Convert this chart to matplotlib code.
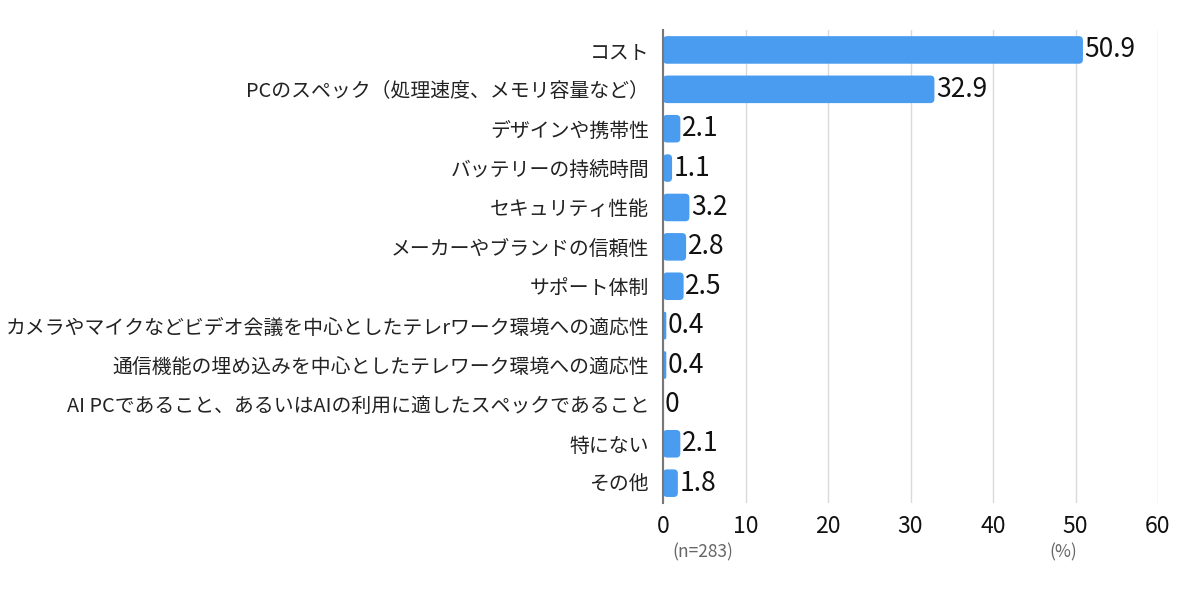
import matplotlib
matplotlib.use("Agg")
import matplotlib.pyplot as plt
from matplotlib.patches import FancyBboxPatch

plt.rcParams['font.family'] = ['Noto Sans CJK JP', 'DejaVu Sans']

# data (top to bottom)
categories = [
    "コスト",
    "PCのスペック（処理速度、メモリ容量など）",
    "デザインや携帯性",
    "バッテリーの持続時間",
    "セキュリティ性能",
    "メーカーやブランドの信頼性",
    "サポート体制",
    "カメラやマイクなどビデオ会議を中心としたテレrワーク環境への適応性",
    "通信機能の埋め込みを中心としたテレワーク環境への適応性",
    "AI PCであること、あるいはAIの利用に適したスペックであること",
    "特にない",
    "その他",
]
values = [50.9, 32.9, 2.1, 1.1, 3.2, 2.8, 2.5, 0.4, 0.4, 0, 2.1, 1.8]
value_labels = ["50.9", "32.9", "2.1", "1.1", "3.2", "2.8", "2.5", "0.4", "0.4", "0", "2.1", "1.8"]
x_ticks = [0, 10, 20, 30, 40, 50, 60]

bar_color = "#4A9CF0"

fig = plt.figure(figsize=(12, 5.93), dpi=100)
ax = fig.add_axes([0.5525, 0.152, 0.4125, 0.797])

y = list(range(len(categories)))
bars = ax.barh(y, values, height=0.7, color=bar_color)

ax.set_xlim(0, 60)
ax.set_ylim(len(categories) - 0.5, -0.5)

# swap plain bars for rounded ones
# px per data unit, for the rounding aspect
x_px = 0.4125 * 1200 / 60
y_px = 0.797 * 593 / len(categories)
aspect = x_px / y_px
for b in bars:
    w = b.get_width()
    b.set_visible(False)
    if w <= 0:
        continue
    r = min(0.5, w / 2)
    rb = FancyBboxPatch((b.get_x(), b.get_y()), w, b.get_height(),
                        boxstyle=f"round,pad=0,rounding_size={r}",
                        mutation_aspect=aspect,
                        facecolor=bar_color, edgecolor="none", zorder=3)
    ax.add_patch(rb)

# value labels
for yi, v, lab in zip(y, values, value_labels):
    ax.text(v + 0.2, yi, lab, va="center", ha="left", fontsize=19,
            color="#111111", zorder=4)

ax.set_yticks(y)
ax.set_yticklabels(categories, fontsize=14.3, color="#222222")
ax.set_xticks(x_ticks)
ax.set_xticklabels([str(t) for t in x_ticks], fontsize=16.5, color="#111111")
ax.tick_params(axis="both", length=0)
ax.tick_params(axis="y", pad=10)
ax.tick_params(axis="x", pad=9)

ax.grid(axis="x", color="#dadada", linewidth=1, zorder=0)
ax.set_axisbelow(True)
for s in ["top", "right", "bottom"]:
    ax.spines[s].set_visible(False)
ax.spines["left"].set_color("#777777")
ax.spines["left"].set_linewidth(1.5)
ax.spines["left"].set_zorder(5)

# footnotes
fig.text(703 / 1200, 1 - 552 / 593, "(n=283)", ha="center", va="center",
         fontsize=12.5, color="#666666")
fig.text(1063 / 1200, 1 - 552 / 593, "(%)", ha="center", va="center",
         fontsize=12.5, color="#666666")

fig.savefig("out.png", dpi=100, facecolor="white")
